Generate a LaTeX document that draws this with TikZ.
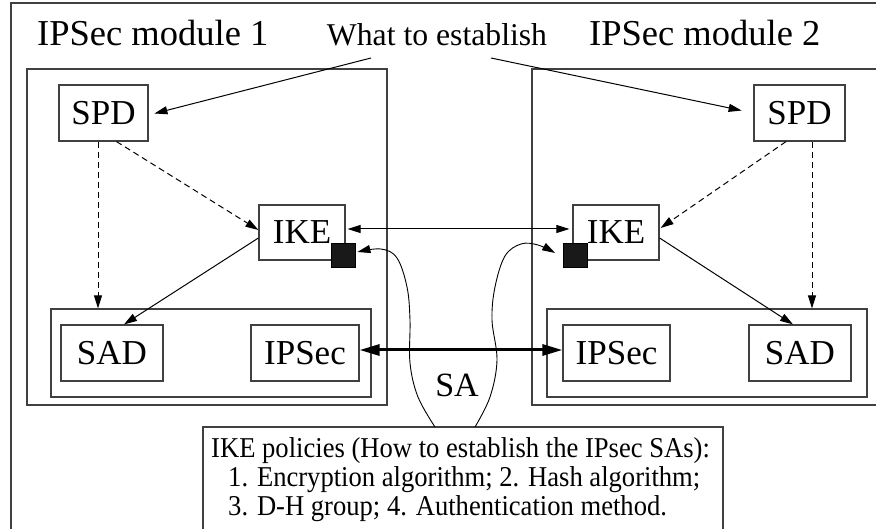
\documentclass[tikz,border=0pt]{standalone}
\usepackage{fontspec}
\setmainfont{Liberation Serif}
\usetikzlibrary{arrows.meta,calc}
\definecolor{boxgray}{gray}{0.25}
\begin{document}
\begin{tikzpicture}[x=1pt,y=-1pt,
  frame/.style={draw=boxgray, line width=1.2pt},
  box/.style={draw=boxgray, line width=1.2pt, inner sep=0pt, anchor=center,
    font=\fontsize{35}{40}\selectfont},
  sq/.style={draw=black, fill=black!90, line width=0.8pt, minimum width=24pt, minimum height=24pt, inner sep=0pt},
  title/.style={font=\fontsize{36.5}{40}\selectfont, inner sep=0pt, anchor=base west},
  poltext/.style={font=\fontsize{26.6}{30}\selectfont, inner sep=0pt, anchor=base west, yscale=1.08},
  arr/.style={-{Triangle[length=13pt,width=8pt]}, line width=1pt, black},
  darr/.style={arr, dash pattern=on 6pt off 4pt},
  biarr/.style={{Triangle[length=13pt,width=8pt]}-{Triangle[length=13pt,width=8pt]}, line width=1pt, black},
  thickarr/.style={{Triangle[length=20pt,width=11pt]}-{Triangle[length=20pt,width=11pt]}, line width=3pt, black}
]
\useasboundingbox (0,0) rectangle (876,529);
\fill[white] (0,0) rectangle (876,529);
\clip (0,0) rectangle (876,529);

% outer frame and module frames
\draw[frame] (11,3) rectangle (890,545);
\draw[frame] (27,69) rectangle (387,405);
\draw[frame] (532,69) rectangle (890,405);

% titles
\node[title] (t1) at (37,46) {IPSec module 1};
\node[title] (t2) at (589,46) {IPSec module 2};
\node[font=\fontsize{31.7}{34}\selectfont, inner sep=0pt, anchor=base] (what) at (437,46) {What to establish};
\coordinate (w1) at (371,58);
\coordinate (w2) at (491,58);

% module 1
\node[box, minimum width=89pt, minimum height=56pt] (spd1) at (103.5,113) {SPD};
\node[box, minimum width=86pt, minimum height=55pt] (ike1) at (302,232.5) {IKE};
\node[sq] (sq1) at (343,255) {};
\node[box, minimum width=320pt, minimum height=88pt] (cont1) at (211,353) {};
\node[box, minimum width=102pt, minimum height=56pt] (sad1) at (112,353) {SAD};
\node[box, minimum width=108pt, minimum height=56pt] (ips1) at (305,353) {IPSec};

% module 2
\node[box, minimum width=91pt, minimum height=56pt] (spd2) at (799.5,113) {SPD};
\node[box, minimum width=86pt, minimum height=55pt] (ike2) at (616,232.5) {IKE};
\node[sq] (sq2) at (575.5,255) {};
\node[box, minimum width=320pt, minimum height=88pt] (cont2) at (707,353) {};
\node[box, minimum width=107pt, minimum height=56pt] (ips2) at (616.5,353) {IPSec};
\node[box, minimum width=102pt, minimum height=56pt] (sad2) at (800,353) {SAD};

% policies box
\node[draw=boxgray, line width=1.2pt, minimum width=520pt, minimum height=113pt, inner sep=0pt] (pol) at (463,483.5) {};
\node[poltext] (p1) at (211,457) {IKE policies (How to establish the IPsec SAs):};
\node[poltext] (p2) at (228,486) {1. Encryption algorithm; 2. Hash algorithm;};
\node[poltext] (p3) at (228,515) {3. D-H group; 4. Authentication method.};

% SA label
\node[font=\fontsize{34}{36}\selectfont, inner sep=0pt] (sa) at (457,385) {SA};

% arrows from "What to establish"
\draw[arr, shorten >=6pt] (w1) -- ($(spd1.east)+(0,2)$);
\draw[arr, shorten >=12pt] (w2) -- ($(spd2.west)+(0,0)$);

% dashed arrows
\draw[darr] ($(spd1.south)+(13,0)$) -- ($(ike1.west)+(0,-2.5)$);
\draw[darr] ($(spd1.south)+(-5.5,0)$) -- (cont1.north -| 98,0);
\draw[darr] ($(spd2.south)+(-13.5,0)$) -- ($(ike2.east)+(1,-4.5)$);
\draw[darr] ($(spd2.south)+(12.5,0)$) -- (cont2.north -| 812,0);

% IKE -> SAD
\draw[arr] ($(ike1.west)+(0,5.5)$) -- ($(sad1.north)+(12,0)$);
\draw[arr] ($(ike2.east)+(0,5.5)$) -- ($(sad2.north)+(-7,0)$);

% IKE <-> IKE
\draw[biarr, shorten <=2pt, shorten >=3pt] ($(ike1.east)+(0,-3.5)$) -- ($(ike2.west)+(0,-3.5)$);

% IPSec <-> IPSec (SA)
\draw[thickarr] ($(ips1.east)+(0,-3)$) -- ($(ips2.west)+(0,-3)$);

% curves from policies box to IKE squares
\coordinate (c1) at (435,427);
\coordinate (c2) at (475,427);
\draw[arr, line width=0.9pt] plot[smooth, tension=0.6] coordinates
  {(c1) (418,397) (410,363) (410,320) (407,287) (397,258) (381,249) ($(sq1.east)+(2,-3)$)};
\draw[arr, line width=0.9pt] plot[smooth, tension=0.6] coordinates
  {(c2) (490,397) (497,360) (492,320) (495,287) (505,256) (521,244) (538,245) ($(sq2.west)+(-8,-2)$)};
\end{tikzpicture}
\end{document}
